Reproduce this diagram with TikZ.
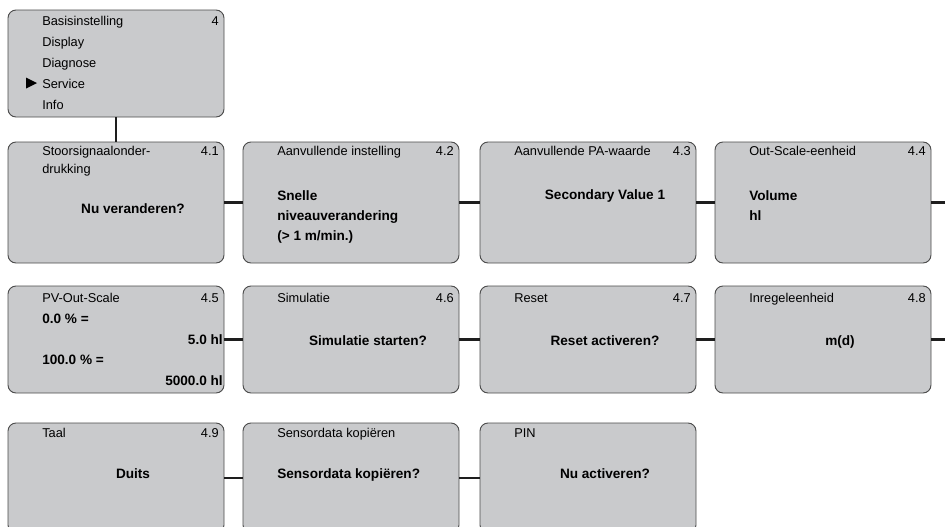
\documentclass[tikz,border=0pt]{standalone}
\usepackage{fontspec}
\setmainfont{Liberation Sans}
\usepackage{tikz}
\definecolor{panelgray}{RGB}{201,202,204}
\definecolor{rimgray}{RGB}{75,75,75}
\definecolor{linkgray}{RGB}{30,30,30}

\begin{document}
\begin{tikzpicture}[x=0.75pt,y=-0.75pt,
    panel/.style={draw=rimgray, line width=0.7pt, fill=panelgray,
      rounded corners=6pt, minimum width=162pt, inner sep=0pt},
    rowA/.style={panel, minimum height=90.75pt},
    rowB/.style={panel, minimum height=80.25pt},
    rowC/.style={panel, minimum height=82.5pt},
    hdr/.style={anchor=base west, inner sep=0pt, font=\fontsize{9.6}{11}\selectfont},
    num/.style={hdr, anchor=base east},
    val/.style={anchor=base west, inner sep=0pt, font=\fontsize{10.2}{12}\selectfont\bfseries},
    mid/.style={val, anchor=base},
    rval/.style={val, anchor=base east},
    link/.style={draw=linkgray, line width=1.8pt}]
      \useasboundingbox (0,0) rectangle (945,526);

      \node[rowB] (menu) at (116,63.5) {};
      \node[hdr] (m1) at (42,25) {Basisinstelling};
      \node[num] (m0) at (219,25) {4};
      \node[hdr] (m2) at (42,46) {Display};
      \node[hdr] (m3) at (42,67) {Diagnose};
      \node[hdr] (m4) at (42,88) {Service};
      \node[hdr] (m5) at (42,109) {Info};
      \fill (26,77.5) -- (37,83) -- (26,88.5) -- cycle;

      \node[rowA] (b41) at (116,202.5) {};
      \node[rowA] (b42) at (351,202.5) {};
      \node[rowA] (b43) at (588,202.5) {};
      \node[rowA] (b44) at (823,202.5) {};
      \coordinate (e1) at (945,202.5);

      \node[hdr] (t41) at (42,155) {Stoorsignaalonder-};
      \node[hdr] (t41b) at (42,173) {drukking};
      \node[num] (n41) at (219,155) {4.1};
      \node[mid] (v41) at (133,213) {Nu veranderen?};
      \node[hdr] (t42) at (277,155) {Aanvullende instelling};
      \node[num] (n42) at (454,155) {4.2};
      \node[val] (v42a) at (277,200) {Snelle};
      \node[val] (v42b) at (277,220) {niveauverandering};
      \node[val] (v42c) at (277,240) {(> 1 m/min.)};
      \node[hdr] (t43) at (514,155) {Aanvullende PA-waarde};
      \node[num] (n43) at (691,155) {4.3};
      \node[mid] (v43) at (605,199) {Secondary Value 1};
      \node[hdr] (t44) at (749,155) {Out-Scale-eenheid};
      \node[num] (n44) at (926,155) {4.4};
      \node[val] (v44a) at (749,200) {Volume};
      \node[val] (v44b) at (749,220) {hl};

      \node[rowB] (b45) at (116,339.5) {};
      \node[rowB] (b46) at (351,339.5) {};
      \node[rowB] (b47) at (588,339.5) {};
      \node[rowB] (b48) at (823,339.5) {};
      \coordinate (e2) at (945,339.5);

      \node[hdr] (t45) at (42,302) {PV-Out-Scale};
      \node[num] (n45) at (219,302) {4.5};
      \node[val] (v45a) at (42,323) {0.0 \% =};
      \node[rval] (v45b) at (223,344) {5.0 hl};
      \node[val] (v45c) at (42,364) {100.0 \% =};
      \node[rval] (v45d) at (223,385) {5000.0 hl};
      \node[hdr] (t46) at (277,302) {Simulatie};
      \node[num] (n46) at (454,302) {4.6};
      \node[mid] (v46) at (368,345) {Simulatie starten?};
      \node[hdr] (t47) at (514,302) {Reset};
      \node[num] (n47) at (691,302) {4.7};
      \node[mid] (v47) at (605,345) {Reset activeren?};
      \node[hdr] (t48) at (749,302) {Inregeleenheid};
      \node[num] (n48) at (926,302) {4.8};
      \node[mid] (v48) at (840,345) {m(d)};

      \node[rowC] (b49) at (116,478) {};
      \node[rowC] (bsens) at (351,478) {};
      \node[rowC] (bpin) at (588,478) {};

      \node[hdr] (t49) at (42,437) {Taal};
      \node[num] (n49) at (219,437) {4.9};
      \node[mid] (v49) at (133,478) {Duits};
      \node[hdr] (tsens) at (277,437) {Sensordata kopiëren};
      \node[val] (vsens) at (277,478) {Sensordata kopiëren?};
      \node[hdr] (tpin) at (514,437) {PIN};
      \node[mid] (vpin) at (605,478) {Nu activeren?};

      \draw[link] (menu) -- (b41);
      \draw[link] (b41) -- (b42);
      \draw[link] (b42) -- (b43);
      \draw[link] (b43) -- (b44);
      \draw[link] (b44.east) -- (e1);
      \draw[link] (b45) -- (b46);
      \draw[link] (b46) -- (b47);
      \draw[link] (b47) -- (b48);
      \draw[link] (b48.east) -- (e2);
      \draw[link] (b49) -- (bsens);
      \draw[link] (bsens) -- (bpin);
    \end{tikzpicture}
\end{document}
